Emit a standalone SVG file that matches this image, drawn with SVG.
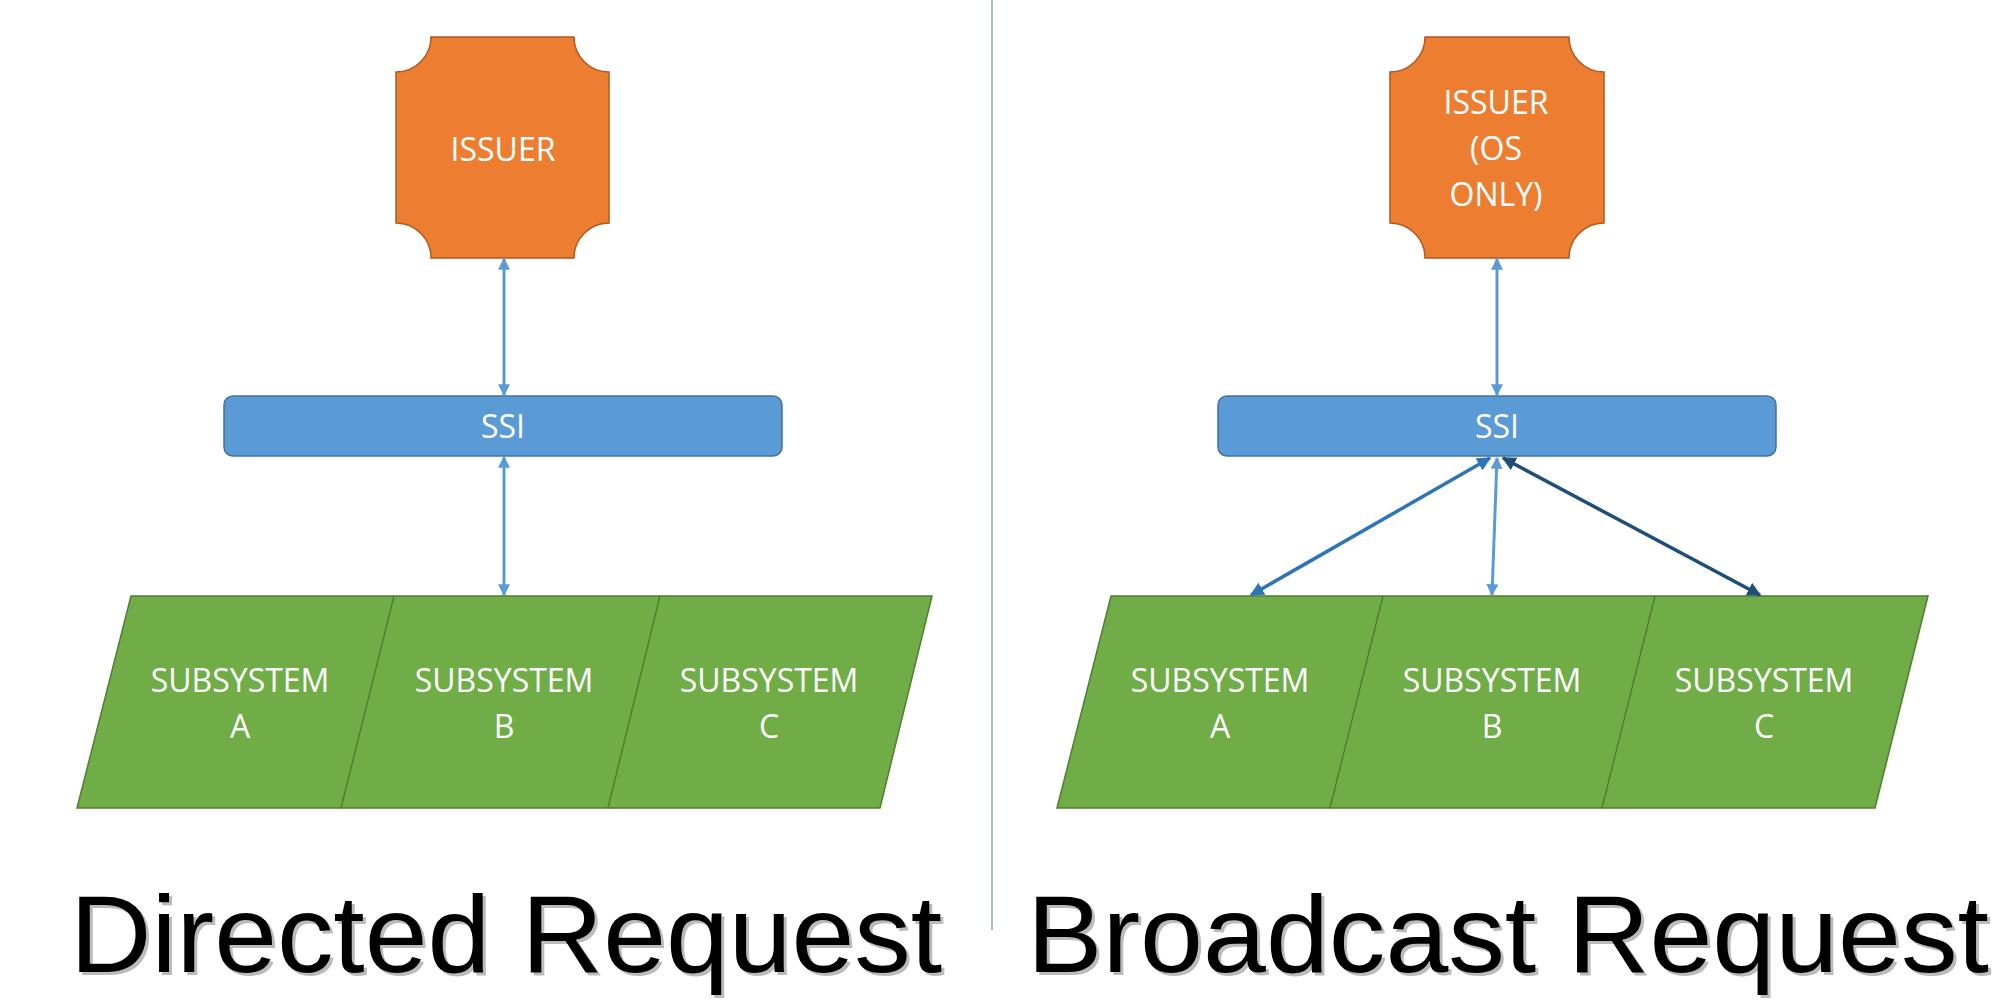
<svg xmlns="http://www.w3.org/2000/svg" width="2000" height="1005" viewBox="0 0 2000 1005">
<style>
.iss{fill:#ED7D31;stroke:#AE5A21;stroke-width:1.5}
.ssi{fill:#5B9BD5;stroke:#41719C;stroke-width:1.5}
.sub{fill:#70AD47;stroke:#507E32;stroke-width:1.5}
.div{stroke:#507E32;stroke-width:1.5;fill:none}
.lbl{font-family:"Open Sans",sans-serif;font-size:32px;fill:#fff;text-anchor:middle}
.ttl{font-family:"Liberation Sans",Arial,sans-serif;font-size:110px;fill:#000}
.sh{fill:#bbb}
.c1{stroke:#5B9BD5;stroke-width:3;fill:none;marker-start:url(#m1);marker-end:url(#m1)}
.c2{stroke:#2E75B6;stroke-width:3.5;fill:none;marker-start:url(#m2);marker-end:url(#m2)}
.c3{stroke:#1F4E79;stroke-width:3.5;fill:none;marker-start:url(#m3);marker-end:url(#m3)}
</style>
<defs>
<marker id="m1" viewBox="0 0 10 10" refX="9" refY="5" markerWidth="4" markerHeight="4" orient="auto-start-reverse"><path d="M0,0L10,5L0,10z" fill="#5B9BD5"/></marker>
<marker id="m2" viewBox="0 0 10 10" refX="9" refY="5" markerWidth="4" markerHeight="4" orient="auto-start-reverse"><path d="M0,0L10,5L0,10z" fill="#2E75B6"/></marker>
<marker id="m3" viewBox="0 0 10 10" refX="9" refY="5" markerWidth="4" markerHeight="4" orient="auto-start-reverse"><path d="M0,0L10,5L0,10z" fill="#1F4E79"/></marker>
</defs>
<rect width="2000" height="1005" fill="#fff"/>
<line x1="992" y1="0" x2="992" y2="930" stroke="#8EA9C8" stroke-width="1.5"/>

<g id="issuer-left">
<path class="iss" d="M431,37H574A35,35 0 0 0 609,72V223A35,35 0 0 0 574,258H431A35,35 0 0 0 396,223V72A35,35 0 0 0 431,37Z"/>
<text class="lbl" x="503" y="161">ISSUER</text>
</g>
<g id="ssi-left">
<rect class="ssi" x="224" y="396" width="558" height="60" rx="9"/>
<text class="lbl" x="503" y="438">SSI</text>
</g>
<g id="subsystems-left">
<path class="sub" d="M131,596H932L880,808H77Z"/>
<path class="div" d="M394,596L341,808M660,596L608,808"/>
<text class="lbl" x="240" y="692">SUBSYSTEM</text><text class="lbl" x="240" y="738">A</text>
<text class="lbl" x="504" y="692">SUBSYSTEM</text><text class="lbl" x="504" y="738">B</text>
<text class="lbl" x="769" y="692">SUBSYSTEM</text><text class="lbl" x="769" y="738">C</text>
</g>

<g id="issuer-right">
<path class="iss" d="M1425,37H1569A35,35 0 0 0 1604,72V223A35,35 0 0 0 1569,258H1425A35,35 0 0 0 1390,223V72A35,35 0 0 0 1425,37Z"/>
<text class="lbl" x="1496" y="114">ISSUER</text>
<text class="lbl" x="1496" y="160">(OS</text>
<text class="lbl" x="1496" y="206">ONLY)</text>
</g>
<g id="ssi-right">
<rect class="ssi" x="1218" y="396" width="558" height="60" rx="9"/>
<text class="lbl" x="1497" y="438">SSI</text>
</g>
<g id="subsystems-right">
<path class="sub" d="M1111,596H1928L1875,808H1057Z"/>
<path class="div" d="M1383,596L1330,808M1655,596L1602,808"/>
<text class="lbl" x="1220" y="692">SUBSYSTEM</text><text class="lbl" x="1220" y="738">A</text>
<text class="lbl" x="1492" y="692">SUBSYSTEM</text><text class="lbl" x="1492" y="738">B</text>
<text class="lbl" x="1764" y="692">SUBSYSTEM</text><text class="lbl" x="1764" y="738">C</text>
</g>

<g id="connectors">
<line class="c1" x1="504" y1="259" x2="504" y2="395"/>
<line class="c1" x1="504" y1="457" x2="504" y2="595"/>
<line class="c1" x1="1497" y1="259" x2="1497" y2="395"/>
<line class="c2" x1="1490" y1="458" x2="1251" y2="595"/>
<line class="c1" x1="1497" y1="458" x2="1492" y2="595"/>
<line class="c3" x1="1503" y1="458" x2="1760" y2="595"/>
</g>

<g id="titles">
<text class="ttl sh" x="73" y="975" textLength="872" lengthAdjust="spacingAndGlyphs">Directed Request</text>
<text class="ttl" x="70" y="972" textLength="872" lengthAdjust="spacingAndGlyphs">Directed Request</text>
<text class="ttl sh" x="1030" y="975" textLength="962" lengthAdjust="spacingAndGlyphs">Broadcast Request</text>
<text class="ttl" x="1027" y="972" textLength="962" lengthAdjust="spacingAndGlyphs">Broadcast Request</text>
</g>
</svg>
